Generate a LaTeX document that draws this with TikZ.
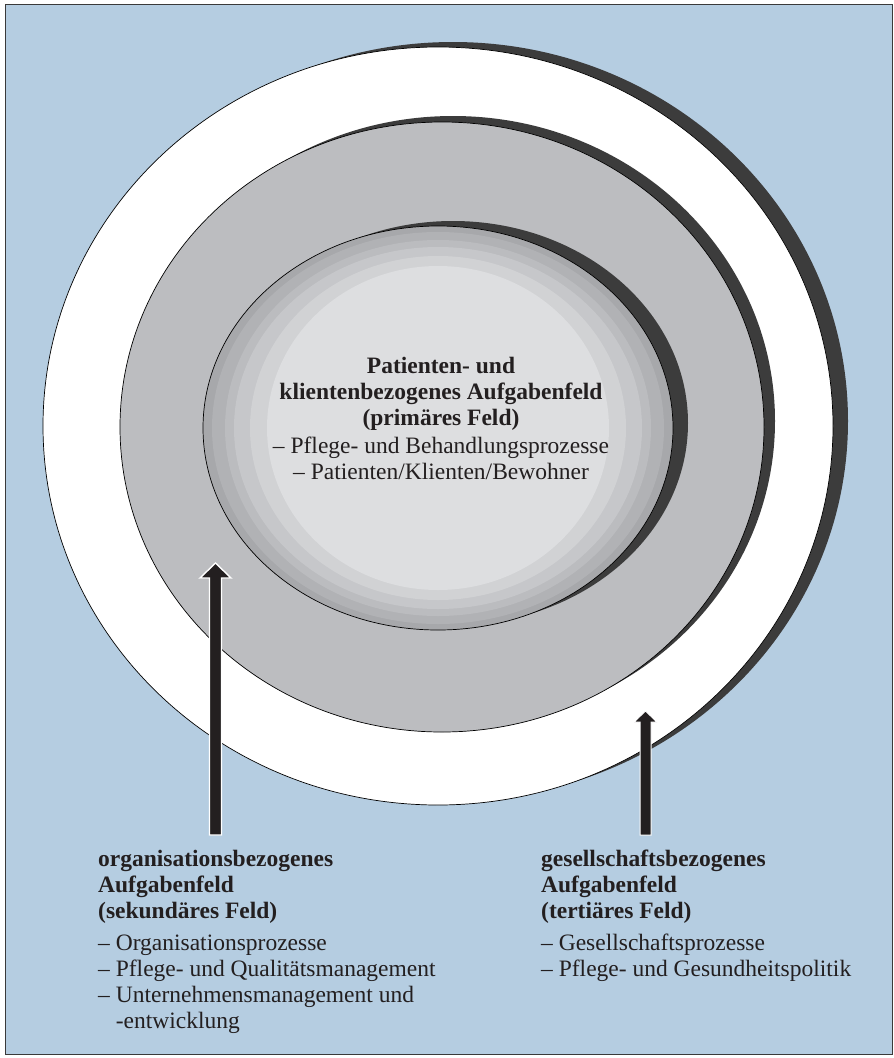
\documentclass[tikz,border=0pt]{standalone}
\usepackage{fontspec}
\setmainfont{Liberation Serif}
\definecolor{bgblue}{HTML}{B5CDE1}
\definecolor{frame}{HTML}{3A3A3A}
\definecolor{shadowc}{HTML}{3C3C3C}
\definecolor{midgrey}{HTML}{BCBDC0}
\definecolor{bandA}{HTML}{A7A8AB}
\definecolor{bandB}{HTML}{B1B2B5}
\definecolor{bandC}{HTML}{BBBCBF}
\definecolor{bandD}{HTML}{C6C7CA}
\definecolor{bandE}{HTML}{D1D2D4}
\definecolor{bandF}{HTML}{DDDEE0}
\definecolor{arrowblack}{HTML}{231F20}
\definecolor{txt}{HTML}{231F20}
\tikzset{
  outline/.style={draw=black, line width=0.7pt},
  bigarrow/.style={fill=arrowblack, draw=white, line width=1.4pt, line join=miter},
  lbl/.style={inner sep=0pt, text=txt, font=\fontsize{23.5}{26}\selectfont},
  lblb/.style={lbl, font=\fontsize{23.5}{26}\selectfont\bfseries},
}
\begin{document}
\begin{tikzpicture}[x=1pt,y=-1pt]
\useasboundingbox (0,0) rectangle (894,1058);
\fill[white] (0,0) rectangle (894,1058);
\fill[bgblue, draw=frame, line width=1pt] (5,4) rectangle (892,1054);
% outer field
\fill[shadowc] (453,421) ellipse [x radius=395pt, y radius=379pt];
\fill[white] (438,426) ellipse [x radius=395pt, y radius=379pt];
\draw[outline] (438,426) ellipse [x radius=395pt, y radius=379pt];
% middle field
\fill[shadowc] (453,421) ellipse [x radius=322pt, y radius=305pt];
\fill[midgrey] (442,427) ellipse [x radius=322pt, y radius=305pt];
\draw[outline] (442,427) ellipse [x radius=322pt, y radius=305pt];
% inner field
\fill[shadowc] (453,423) ellipse [x radius=235pt, y radius=202pt];
\fill[bandA] (438,428) ellipse [x radius=235pt, y radius=202pt];
\fill[bandB] (438,428) ellipse [x radius=226pt, y radius=196pt];
\fill[bandC] (438,428) ellipse [x radius=213pt, y radius=188pt];
\fill[bandD] (438,428) ellipse [x radius=204pt, y radius=181pt];
\fill[bandE] (438,428) ellipse [x radius=188pt, y radius=172pt];
\fill[bandF] (438,428) ellipse [x radius=171pt, y radius=162pt];
\draw[outline] (438,428) ellipse [x radius=235pt, y radius=202pt];
% arrows
\draw[bigarrow] (209.5,835) -- (209.5,578) -- (200,578) -- (215.5,563) -- (231,578) -- (221.5,578) -- (221.5,835) -- cycle;
\draw[bigarrow, line width=1pt] (640,835) -- (640,722) -- (634,722) -- (645.5,711) -- (657,722) -- (651,722) -- (651,835) -- cycle;
% centre text
\node[lblb, anchor=base] (c1) at (441,373) {Patienten- und};
\node[lblb, anchor=base] (c2) at (441,399) {klientenbezogenes Aufgabenfeld};
\node[lblb, anchor=base] (c3) at (441,425) {(primäres Feld)};
\node[lbl, anchor=base] (c4) at (441,453) {– Pflege- und Behandlungsprozesse};
\node[lbl, anchor=base] (c5) at (441,479) {– Patienten/Klienten/Bewohner};
% left text
\node[lblb, anchor=base west] (l1) at (98,866) {organisationsbezogenes};
\node[lblb, anchor=base west] (l2) at (98,892) {Aufgabenfeld};
\node[lblb, anchor=base west] (l3) at (98,918) {(sekundäres Feld)};
\node[lbl, anchor=base west] (l4) at (98,950) {– Organisationsprozesse};
\node[lbl, anchor=base west] (l5) at (98,976) {– Pflege- und Qualitätsmanagement};
\node[lbl, anchor=base west] (l6) at (98,1002) {– Unternehmensmanagement und};
\node[lbl, anchor=base west] (l7) at (98,1028) {\phantom{– }-entwicklung};
% right text
\node[lblb, anchor=base west] (r1) at (541,866) {gesellschaftsbezogenes};
\node[lblb, anchor=base west] (r2) at (541,892) {Aufgabenfeld};
\node[lblb, anchor=base west] (r3) at (541,918) {(tertiäres Feld)};
\node[lbl, anchor=base west] (r4) at (541,950) {– Gesellschaftsprozesse};
\node[lbl, anchor=base west] (r5) at (541,976) {– Pflege- und Gesundheitspolitik};
\end{tikzpicture}
\end{document}
